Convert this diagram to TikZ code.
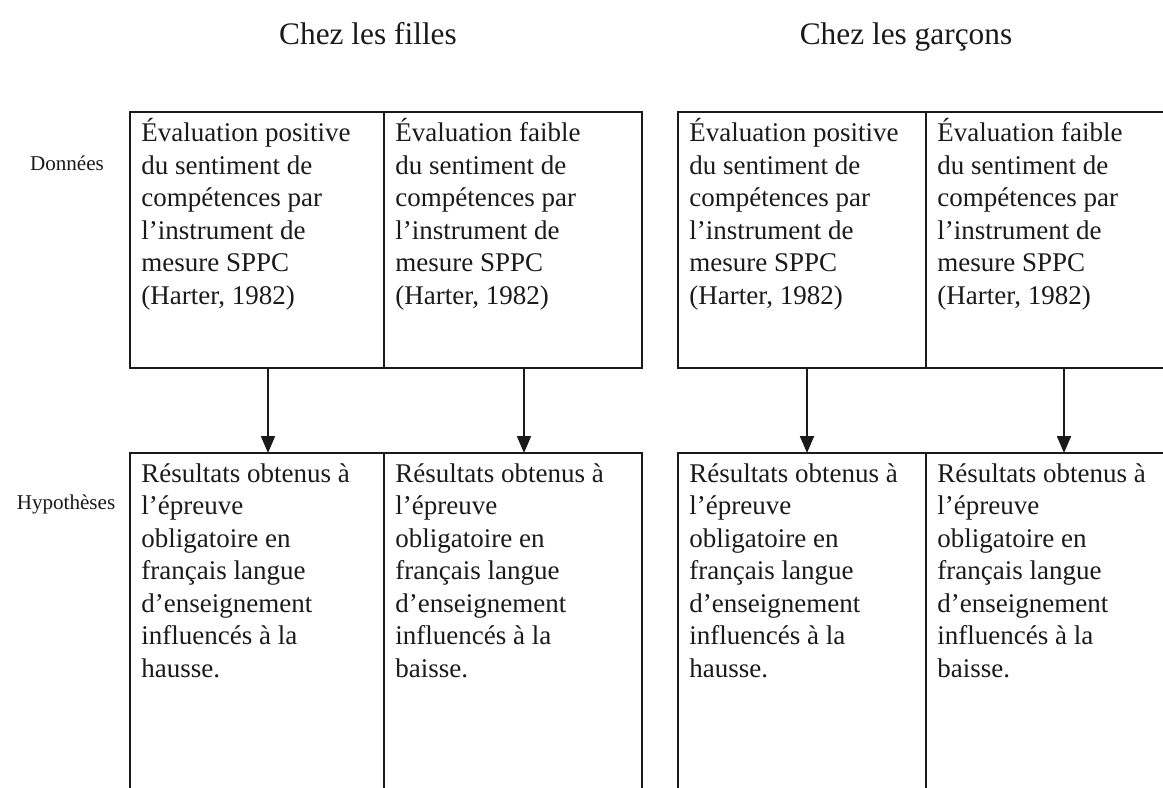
\documentclass[tikz,border=0pt]{standalone}
\usepackage{fontspec}
\setmainfont{Liberation Serif}
\usepackage{tikz}
\usetikzlibrary{arrows.meta,positioning}
\definecolor{ink}{HTML}{1A1A1A}

\begin{document}
\begin{tikzpicture}[x=0.025cm,y=-0.025cm,
    cell/.style={draw=ink,line width=1.1pt,inner sep=0pt,outer sep=0pt,minimum height=#1},
    boxtext/.style={inner sep=0pt,align=left,text=ink,font=\fontsize{19.2}{23.1}\selectfont},
    head/.style={anchor=base,text=ink,font=\fontsize{22.3}{26}\selectfont},
    side/.style={text=ink,font=\fontsize{15}{18}\selectfont},
    arr/.style={draw=ink,line width=1.1pt,-{Triangle[length=12pt,width=10pt]}}]
        \clip (0,0) rectangle (1163,788);
        % headings
        \node[head] (filles) at (368,45) {Chez les filles};
        \node[head] (garcons) at (906,45) {Chez les garçons};
        \node[side] (donnees) at (67,163) {Données};
        \node[side] (hypos) at (66,504) {Hypothèses};
        % top row
        \node[cell=6.4cm,minimum width=6.35cm] (d1) at (257,240) {};
        \node[cell=6.4cm,minimum width=6.45cm] (d2) at (513,240) {};
        \node[cell=6.4cm,minimum width=6.2cm] (d3) at (802,240) {};
        \node[cell=6.4cm,minimum width=6.6cm] (d4) at (1058,240) {};
        % bottom row
        \node[cell=9.2cm,minimum width=6.35cm] (h1) at (257,637) {};
        \node[cell=9.2cm,minimum width=6.45cm] (h2) at (513,637) {};
        \node[cell=9.2cm,minimum width=6.2cm] (h3) at (802,637) {};
        \node[cell=9.2cm,minimum width=6.6cm] (h4) at (1058,637) {};
        % texts
        \node[boxtext,below right=0.16cm and 0.28cm of d1.north west] (td1) {\strut Évaluation positive\\du sentiment de\\compétences par\\l’instrument de\\mesure SPPC\\(Harter, 1982)};
        \node[boxtext,below right=0.16cm and 0.28cm of d2.north west] (td2) {\strut Évaluation faible\\du sentiment de\\compétences par\\l’instrument de\\mesure SPPC\\(Harter, 1982)};
        \node[boxtext,below right=0.16cm and 0.28cm of d3.north west] (td3) {\strut Évaluation positive\\du sentiment de\\compétences par\\l’instrument de\\mesure SPPC\\(Harter, 1982)};
        \node[boxtext,below right=0.16cm and 0.28cm of d4.north west] (td4) {\strut Évaluation faible\\du sentiment de\\compétences par\\l’instrument de\\mesure SPPC\\(Harter, 1982)};
        \node[boxtext,below right=0.16cm and 0.28cm of h1.north west] (th1) {\strut Résultats obtenus à\\l’épreuve\\obligatoire en\\français langue\\d’enseignement\\influencés à la\\hausse.};
        \node[boxtext,below right=0.16cm and 0.28cm of h2.north west] (th2) {\strut Résultats obtenus à\\l’épreuve\\obligatoire en\\français langue\\d’enseignement\\influencés à la\\baisse.};
        \node[boxtext,below right=0.16cm and 0.28cm of h3.north west] (th3) {\strut Résultats obtenus à\\l’épreuve\\obligatoire en\\français langue\\d’enseignement\\influencés à la\\hausse.};
        \node[boxtext,below right=0.16cm and 0.28cm of h4.north west] (th4) {\strut Résultats obtenus à\\l’épreuve\\obligatoire en\\français langue\\d’enseignement\\influencés à la\\baisse.};
        % arrows
        \draw[arr] ([xshift=0.275cm]d1.south) -- ([xshift=0.275cm]h1.north);
        \draw[arr] ([xshift=0.275cm]d2.south) -- ([xshift=0.275cm]h2.north);
        \draw[arr] ([xshift=0.125cm]d3.south) -- ([xshift=0.125cm]h3.north);
        \draw[arr] ([xshift=0.15cm]d4.south) -- ([xshift=0.15cm]h4.north);
      \end{tikzpicture}
\end{document}
